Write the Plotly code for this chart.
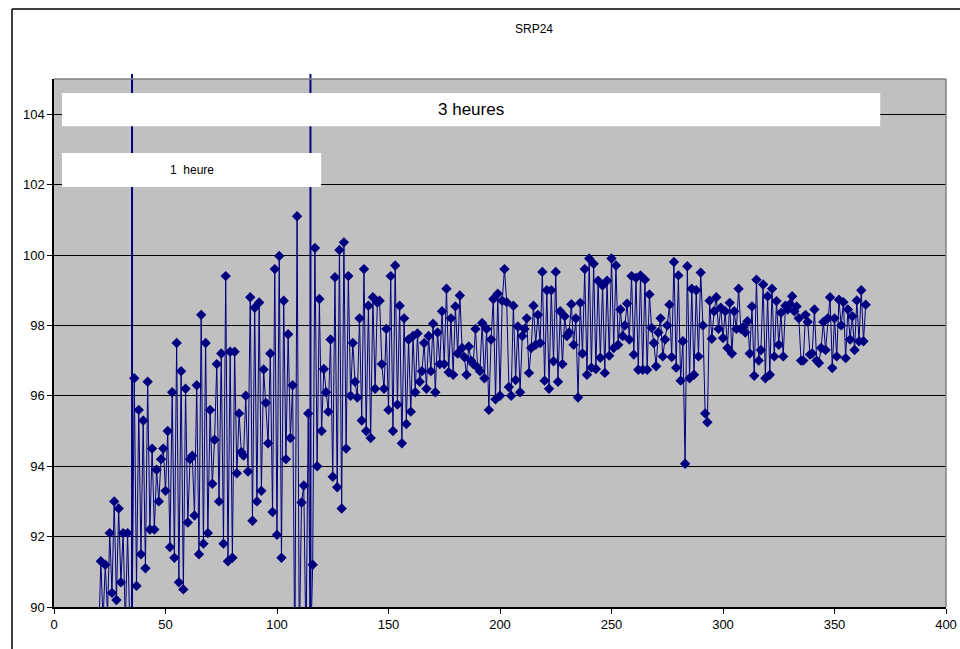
import plotly.graph_objects as go

# ---- data ----
title_text = "SRP24"
label_long = "3 heures"
label_short = "1\u00a0 heure"
marker_lines_x = [35, 115]

x_first = 20
srp_20_59 = [89.0, 91.3, 89.6, 91.2, 89.8, 92.1, 90.4, 93.0, 90.2, 92.8,
             90.7, 92.1, 89.5, 92.1, 89.4, 89.6, 96.5, 90.6, 95.6, 91.5,
             95.3, 91.1, 96.4, 92.2, 94.5, 92.2, 93.9, 93.0, 94.2, 94.5,
             93.3, 95.0, 91.7, 96.1, 91.4, 97.5, 90.7, 96.7, 90.5, 96.2]
srp_60_99 = [92.4, 94.2, 94.3, 92.6, 96.3, 91.5, 98.3, 91.8, 97.5, 92.1,
             95.6, 93.5, 94.75, 96.9, 93.0, 97.2, 91.8, 99.4, 91.3, 97.25,
             91.4, 97.25, 93.8, 95.5, 94.4, 94.3, 96.0, 93.85, 98.8, 92.45,
             98.5, 93.0, 98.65, 93.3, 96.75, 95.8, 94.65, 97.2, 92.7, 99.6]
srp_100_149 = [92.05, 99.97, 91.4, 98.7, 94.2, 97.75, 94.8, 96.3, 88.5, 101.1,
               89.0, 92.97, 93.45, 88.8, 95.5, 88.5, 91.2, 100.2, 94.0, 98.75,
               95.0, 96.76, 96.1, 95.55, 97.6, 93.7, 99.37, 93.4, 100.14, 92.8,
               100.36, 94.5, 99.4, 96.0, 97.5, 96.4, 95.95, 98.2, 95.3, 99.6,
               95.0, 98.56, 94.8, 98.8, 96.2, 98.65, 98.7, 96.9, 96.2, 97.9]
srp_150_199 = [95.6, 99.4, 95.0, 99.7, 95.75, 98.56, 94.65, 98.2, 95.2, 97.6,
               95.55, 97.7, 96.1, 97.77, 96.4, 96.7, 97.5, 96.2, 97.7, 96.7,
               98.05, 96.1, 97.8, 96.9, 98.4, 96.9, 99.04, 96.67, 98.2, 96.6,
               98.54, 97.2, 98.85, 97.36, 97.1, 96.6, 97.4, 97.0, 96.9, 97.9,
               96.8, 96.7, 98.07, 96.5, 97.9, 95.6, 97.6, 98.75, 95.9, 98.9]
srp_200_249 = [96.0, 98.7, 99.6, 98.66, 96.25, 96.0, 98.56, 96.45, 97.97, 96.1,
               97.7, 97.9, 98.2, 96.65, 97.36, 98.56, 97.45, 98.3, 97.5, 99.52,
               96.43, 99.0, 96.2, 99.0, 96.98, 99.52, 96.4, 98.4, 96.9, 98.26,
               97.7, 97.8, 98.6, 97.45, 98.2, 95.95, 98.64, 97.2, 99.6, 96.6,
               99.9, 96.8, 99.75, 96.76, 99.27, 97.08, 99.13, 96.65, 99.27, 97.14]
srp_250_299 = [99.9, 97.36, 99.7, 97.45, 98.45, 97.7, 98.0, 98.62, 97.6, 99.4,
               97.17, 99.35, 96.74, 99.42, 96.74, 99.3, 96.74, 98.88, 97.93, 97.5,
               96.84, 97.8, 98.2, 97.12, 97.6, 98.0, 98.59, 97.1, 99.8, 96.8,
               99.42, 96.43, 97.55, 94.07, 99.68, 96.5, 99.04, 96.6, 99.0, 97.12,
               99.5, 98.0, 95.5, 95.25, 98.7, 97.62, 98.4, 98.8, 97.9, 98.5]
srp_300_364 = [97.64, 98.4, 97.36, 98.64, 97.2, 98.4, 97.9, 99.04, 97.9, 97.95,
               97.8, 98.12, 97.2, 98.54, 96.57, 99.3, 97.0, 97.3, 99.16, 96.5,
               98.83, 96.6, 99.04, 97.12, 98.69, 97.45, 98.36, 97.12, 98.56, 98.45,
               98.6, 98.83, 98.4, 98.54, 98.2, 97.0, 97.0, 98.3, 98.1, 97.17,
               97.2, 98.45, 97.0, 96.93, 97.36, 98.1, 97.3, 98.2, 98.8, 96.79,
               98.2, 97.12, 98.73, 98.0, 98.66, 97.07, 98.45, 97.6, 98.26, 97.3,
               98.71, 97.55, 99.0, 97.55, 98.59]

x_ticks = [0, 50, 100, 150, 200, 250, 300, 350, 400]
y_ticks = [90, 92, 94, 96, 98, 100, 102, 104]

values = srp_20_59 + srp_60_99 + srp_100_149 + srp_150_199 + srp_200_249 + srp_250_299 + srp_300_364
xs = [x_first + i for i in range(len(values))]

NAVY = "#000080"
FONT = "Liberation Sans, Arial, sans-serif"

fig = go.Figure()
fig.add_trace(go.Scatter(
    x=xs, y=values, mode="lines+markers",
    line=dict(color=NAVY, width=1),
    marker=dict(symbol="diamond", size=8, color=NAVY, line=dict(width=0)),
    showlegend=False, hoverinfo="skip",
))

shapes = []
# vertical markers (extend slightly above plot area)
for xv in marker_lines_x:
    shapes.append(dict(type="line", xref="x", yref="paper", x0=xv, x1=xv, y0=0, y1=1.0095,
                       line=dict(color=NAVY, width=2)))
# white label boxes
shapes.append(dict(type="rect", xref="x", yref="y", x0=3.6, x1=370.5, y0=103.66, y1=104.6,
                   fillcolor="white", line=dict(width=0)))
shapes.append(dict(type="rect", xref="x", yref="y", x0=3.6, x1=119.8, y0=101.93, y1=102.9,
                   fillcolor="white", line=dict(width=0)))
# plot-area top/right border (grey)
shapes.append(dict(type="line", xref="paper", yref="paper", x0=0, x1=1, y0=1, y1=1,
                   line=dict(color="#808080", width=1.5)))
shapes.append(dict(type="line", xref="paper", yref="paper", x0=1, x1=1, y0=0, y1=1,
                   line=dict(color="#808080", width=1.5)))
# chart outer frame (left and top visible)
shapes.append(dict(type="line", xref="paper", yref="paper", x0=-0.0471, x1=-0.0471, y0=-0.2, y1=1.1326,
                   line=dict(color="black", width=1.5)))
shapes.append(dict(type="line", xref="paper", yref="paper", x0=-0.0471, x1=1.1, y0=1.1326, y1=1.1326,
                   line=dict(color="black", width=1.5)))

annotations = [
    dict(text=title_text, xref="paper", yref="paper", x=0.538, y=1.0947, showarrow=False,
         font=dict(family=FONT, size=12, color="black"), xanchor="center", yanchor="middle"),
    dict(text=label_long, xref="x", yref="y", x=187, y=104.13, showarrow=False,
         font=dict(family=FONT, size=17, color="black"), xanchor="center", yanchor="middle"),
    dict(text=label_short, xref="x", yref="y", x=61.9, y=102.42, showarrow=False,
         font=dict(family=FONT, size=12, color="black"), xanchor="center", yanchor="middle"),
]

fig.update_layout(
    width=960, height=649,
    margin=dict(l=54, r=14, t=79, b=42, autoexpand=False),
    paper_bgcolor="white", plot_bgcolor="#C0C0C0",
    shapes=shapes, annotations=annotations,
    font=dict(family=FONT, size=13, color="black"),
    xaxis=dict(range=[0, 400], tickvals=x_ticks, showgrid=False, zeroline=False, automargin=False,
               showline=True, linecolor="black", linewidth=1.5,
               ticks="outside", ticklen=5, tickcolor="black",
               tickfont=dict(family=FONT, size=13, color="black")),
    yaxis=dict(range=[90, 105], tickvals=y_ticks, showgrid=True, gridcolor="black", gridwidth=1,
               zeroline=False, showline=True, linecolor="black", linewidth=1.5, automargin=False,
               ticks="outside", ticklen=5, tickcolor="black",
               tickfont=dict(family=FONT, size=13, color="black")),
)

fig.write_html("out.html")
